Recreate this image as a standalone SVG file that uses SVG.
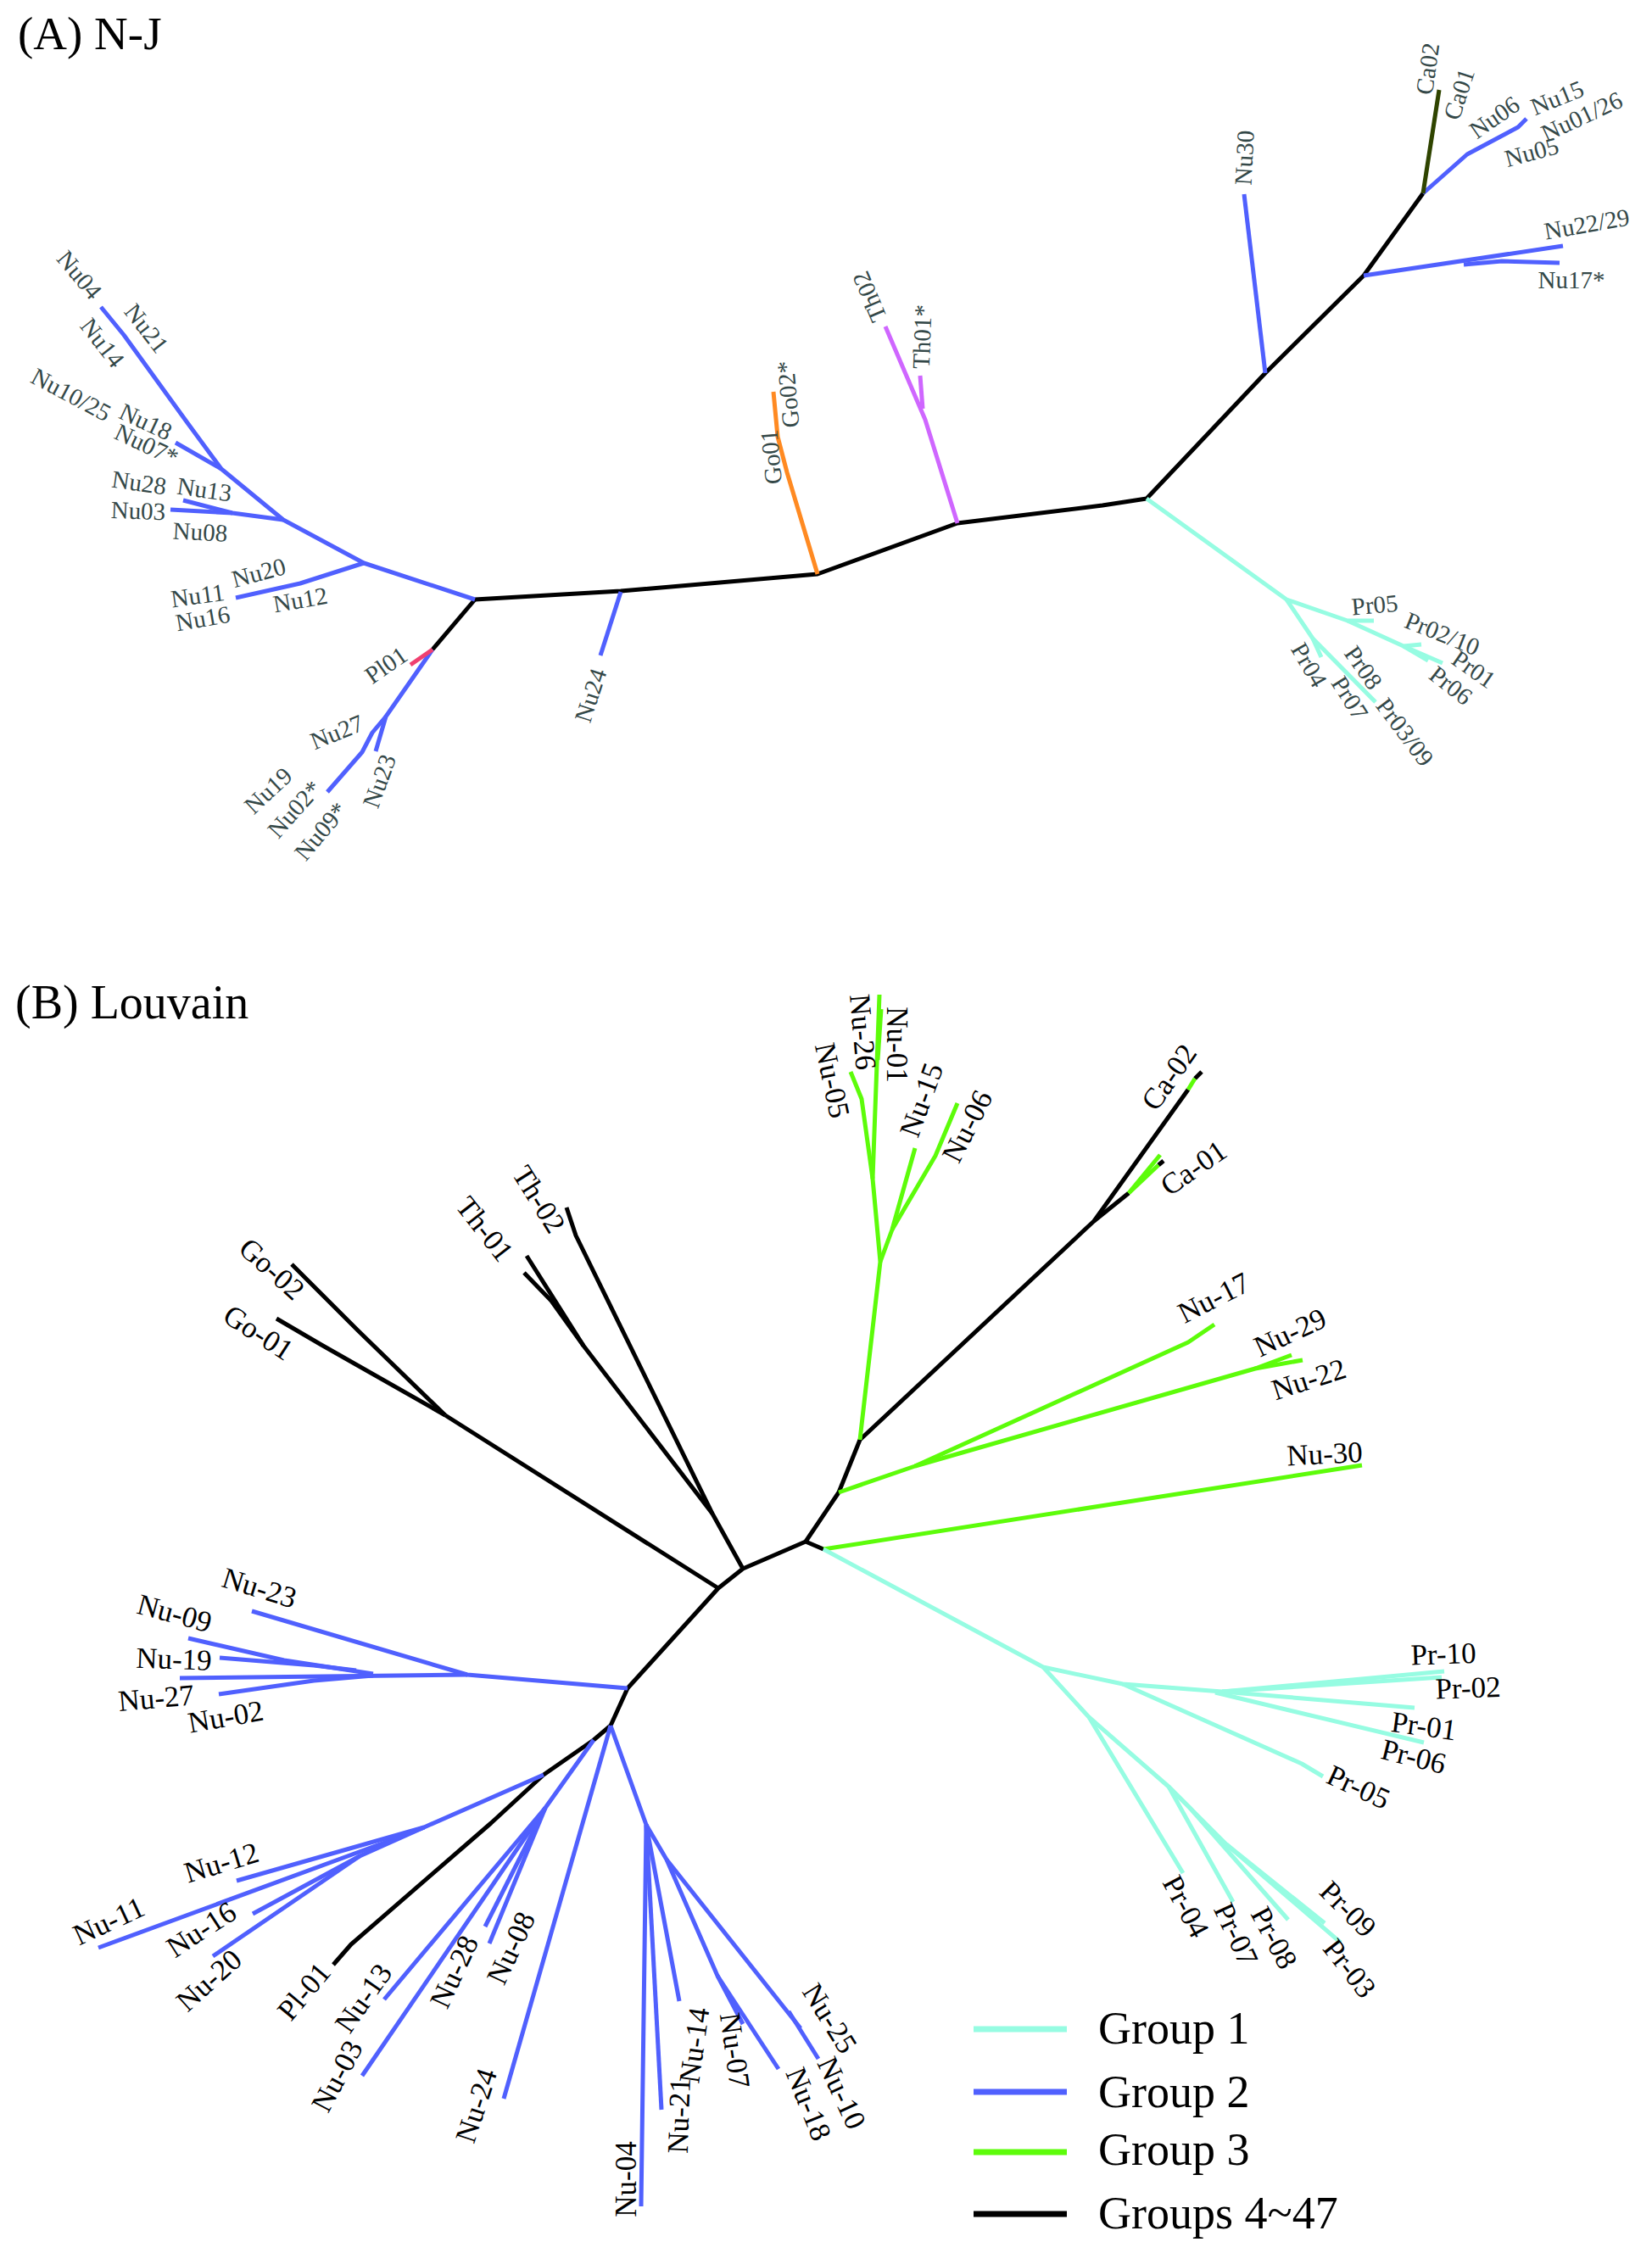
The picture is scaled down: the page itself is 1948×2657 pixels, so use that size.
<svg xmlns="http://www.w3.org/2000/svg" width="1948" height="2657" viewBox="0 0 1948 2657" font-family="'Liberation Serif', 'Times New Roman', serif">
<style>
text{font-family:'Liberation Serif','Times New Roman',serif}
.t{fill:#000;font-family:'Liberation Serif','Times New Roman',serif}
.la{font-size:29px;fill:#344848;text-anchor:middle;font-family:'Liberation Serif','Times New Roman',serif}
.lb{font-size:35px;fill:#000;text-anchor:middle;font-family:'Liberation Serif','Times New Roman',serif}
.lg{font-size:54px;fill:#000;font-family:'Liberation Serif','Times New Roman',serif}
path{fill:none;stroke-width:5;stroke-linejoin:round;stroke-linecap:butt}
.k{stroke:#000}
.b{stroke:#5060FE}
.c{stroke:#96FCE2}
.g{stroke:#5DFC0A}
.o{stroke:#FF8A22}
.v{stroke:#CF66FF}
.p{stroke:#F04070}
.ol{stroke:#2F4400}
.leg{stroke-width:7}
</style>
<rect width="1948" height="2657" fill="#fff"/>
<g id="titles">
<text class="t" x="21" y="58" font-size="55">(A) N-J</text>
<text class="t" x="18" y="1201" font-size="56">(B) Louvain</text>
</g>
<g id="connectors">
<path class="k" d="M560,707 L732,697 L964,677 L1129,617 L1300,596 L1352,588 L1492,440 L1608,325 L1678,228"/>
<path class="k" d="M560,707 L510,766"/>
<path class="b" d="M560,707 L429,664 L334,613 L261,553 L222,500 L146,395 L119,362"/>
<path class="b" d="M261,553 L207,522"/>
<path class="b" d="M334,613 L274,605 L216,590"/>
<path class="b" d="M274,605 L201,601"/>
<path class="b" d="M429,664 L354,688 L278,705"/>
<path class="b" d="M510,766 L455,845 L443,886"/>
<path class="b" d="M455,845 L439,864 L427,887 L386,934"/>
<path class="b" d="M732,698 L708,773"/>
<path class="b" d="M1492,440 L1467,229"/>
<path class="b" d="M1608,325 L1843,290"/>
<path class="b" d="M1726,312 L1771,308 L1839,310"/>
<path class="b" d="M1678,228 L1730,182 L1790,150 L1800,140"/>
<path class="o" d="M964,677 L928,557 L917,515 L912,462"/>
<path class="v" d="M1129,617 L1091,495 L1044,385"/>
<path class="v" d="M1088,482 L1085,443"/>
<path class="p" d="M510,766 L484,784"/>
<path class="ol" d="M1678,228 L1697,106"/>
<path class="c" d="M1352,588 L1517,707 L1589,732 L1620,732"/>
<path class="c" d="M1589,732 L1655,762 L1676,760"/>
<path class="c" d="M1655,762 L1701,782"/>
<path class="c" d="M1655,762 L1684,779"/>
<path class="c" d="M1517,707 L1548,753 L1558,775"/>
<path class="c" d="M1548,753 L1622,828"/>
<path class="k" d="M525,1669 L847,1873"/>
<path class="k" d="M525,1669 L422,1569 L344,1491"/>
<path class="k" d="M525,1669 L379,1586 L326,1555"/>
<path class="k" d="M876,1850 L840,1785 L679,1457 L668,1424"/>
<path class="k" d="M840,1785 L688,1587 L621,1481"/>
<path class="k" d="M688,1587 L650,1534 L618,1501"/>
<path class="k" d="M740,1991 L847,1873 L876,1850 L950,1818 L971,1827"/>
<path class="k" d="M950,1818 L989,1760 L1014,1698 L1290,1440 L1401,1285"/>
<path class="k" d="M1409,1272 L1417,1264"/>
<path class="k" d="M1290,1440 L1331,1407"/>
<path class="k" d="M1366,1374 L1372,1369"/>
<path class="k" d="M740,1991 L720,2035 L700,2052 L641,2093 L579,2150 L414,2293 L393,2317"/>
<path class="g" d="M1401,1285 L1409,1272"/>
<path class="g" d="M1331,1407 L1368,1362"/>
<path class="g" d="M1331,1407 L1366,1374"/>
<path class="b" d="M740,1991 L551,1975 L297,1900"/>
<path class="b" d="M551,1975 L212,1979"/>
<path class="b" d="M440,1974 L335,1958 L222,1932"/>
<path class="b" d="M420,1970 L370,1964 L259,1955"/>
<path class="b" d="M440,1976 L370,1982 L258,1998"/>
<path class="b" d="M641,2093 L500,2155 L279,2218"/>
<path class="b" d="M500,2155 L467,2168 L116,2297"/>
<path class="b" d="M500,2155 L424,2189 L298,2257"/>
<path class="b" d="M424,2189 L251,2307"/>
<path class="b" d="M720,2035 L594,2475"/>
<path class="b" d="M700,2052 L643,2132 L453,2358"/>
<path class="b" d="M643,2132 L427,2448"/>
<path class="b" d="M643,2132 L572,2272"/>
<path class="b" d="M643,2132 L577,2292"/>
<path class="b" d="M720,2035 L762,2152 L756,2602"/>
<path class="b" d="M762,2152 L780,2488"/>
<path class="b" d="M762,2152 L801,2360"/>
<path class="b" d="M762,2152 L786,2193 L846,2330 L876,2387"/>
<path class="b" d="M846,2330 L918,2440"/>
<path class="b" d="M786,2193 L944,2392"/>
<path class="b" d="M930,2372 L965,2428"/>
<path class="g" d="M971,1827 L1606,1728"/>
<path class="g" d="M989,1760 L1079,1729 L1401,1583 L1432,1562"/>
<path class="g" d="M1079,1729 L1480,1614 L1536,1604"/>
<path class="g" d="M1480,1614 L1523,1598"/>
<path class="g" d="M1014,1698 L1038,1488 L1029,1390 L1037,1173"/>
<path class="g" d="M1029,1390 L1016,1296 L1003,1264"/>
<path class="g" d="M1035,1250 L1039,1190"/>
<path class="g" d="M1038,1488 L1052,1450 L1079,1354"/>
<path class="g" d="M1052,1450 L1103,1363 L1129,1301"/>
<path class="c" d="M971,1827 L1230,1966 L1324,1986 L1441,1995 L1703,1971"/>
<path class="c" d="M1441,1995 L1700,1978"/>
<path class="c" d="M1441,1995 L1668,2014"/>
<path class="c" d="M1433,1996 L1679,2055"/>
<path class="c" d="M1324,1986 L1535,2080 L1560,2095"/>
<path class="c" d="M1230,1966 L1284,2025 L1395,2209"/>
<path class="c" d="M1284,2025 L1378,2107 L1454,2243"/>
<path class="c" d="M1378,2107 L1403,2132 L1519,2264"/>
<path class="c" d="M1378,2107 L1446,2175 L1581,2291"/>
<path class="c" d="M1446,2175 L1562,2268"/>
</g>
<g id="labels-A">
<g id="a-Nu04"><text class="la" dy="0.35em" transform="translate(94,324) rotate(50)">Nu04</text></g>
<g id="a-Nu21"><text class="la" dy="0.35em" transform="translate(173,387) rotate(52)">Nu21</text></g>
<g id="a-Nu14"><text class="la" dy="0.35em" transform="translate(121,404) rotate(52)">Nu14</text></g>
<g id="a-Nu10-25"><text class="la" dy="0.35em" transform="translate(84,465) rotate(28)">Nu10/25</text></g>
<g id="a-Nu18"><text class="la" dy="0.35em" transform="translate(172,497) rotate(25)">Nu18</text></g>
<g id="a-Nu07"><text class="la" dy="0.35em" transform="translate(173,524) rotate(25)">Nu07*</text></g>
<g id="a-Nu28"><text class="la" dy="0.35em" transform="translate(164,569) rotate(8)">Nu28</text></g>
<g id="a-Nu13"><text class="la" dy="0.35em" transform="translate(241,577) rotate(8)">Nu13</text></g>
<g id="a-Nu03"><text class="la" dy="0.35em" transform="translate(163,602) rotate(2)">Nu03</text></g>
<g id="a-Nu08"><text class="la" dy="0.35em" transform="translate(236,627) rotate(3)">Nu08</text></g>
<g id="a-Nu20"><text class="la" dy="0.35em" transform="translate(305,675) rotate(-15)">Nu20</text></g>
<g id="a-Nu11"><text class="la" dy="0.35em" transform="translate(233,702) rotate(-8)">Nu11</text></g>
<g id="a-Nu16"><text class="la" dy="0.35em" transform="translate(239,729) rotate(-10)">Nu16</text></g>
<g id="a-Nu12"><text class="la" dy="0.35em" transform="translate(354,707) rotate(-10)">Nu12</text></g>
<g id="a-Pl01"><text class="la" dy="0.35em" transform="translate(455,784) rotate(-35)">Pl01</text></g>
<g id="a-Nu27"><text class="la" dy="0.35em" transform="translate(397,863) rotate(-22)">Nu27</text></g>
<g id="a-Nu19"><text class="la" dy="0.35em" transform="translate(316,932) rotate(-43)">Nu19</text></g>
<g id="a-Nu02"><text class="la" dy="0.35em" transform="translate(347,954) rotate(-48)">Nu02*</text></g>
<g id="a-Nu09"><text class="la" dy="0.35em" transform="translate(378,980) rotate(-50)">Nu09*</text></g>
<g id="a-Nu23"><text class="la" dy="0.35em" transform="translate(447,921) rotate(-70)">Nu23</text></g>
<g id="a-Nu24"><text class="la" dy="0.35em" transform="translate(696,820) rotate(-72)">Nu24</text></g>
<g id="a-Go01"><text class="la" dy="0.35em" transform="translate(909,539) rotate(-95)">Go01</text></g>
<g id="a-Go02"><text class="la" dy="0.35em" transform="translate(929,465) rotate(-95)">Go02*</text></g>
<g id="a-Th02"><text class="la" dy="0.35em" transform="translate(1025,350) rotate(-113)">Th02</text></g>
<g id="a-Th01"><text class="la" dy="0.35em" transform="translate(1087,397) rotate(-88)">Th01*</text></g>
<g id="a-Nu30"><text class="la" dy="0.35em" transform="translate(1467,186) rotate(-87)">Nu30</text></g>
<g id="a-Ca02"><text class="la" dy="0.35em" transform="translate(1683,81) rotate(-82)">Ca02</text></g>
<g id="a-Ca01"><text class="la" dy="0.35em" transform="translate(1720,111) rotate(-72)">Ca01</text></g>
<g id="a-Nu06"><text class="la" dy="0.35em" transform="translate(1762,138) rotate(-35)">Nu06</text></g>
<g id="a-Nu15"><text class="la" dy="0.35em" transform="translate(1836,115) rotate(-22)">Nu15</text></g>
<g id="a-Nu01-26"><text class="la" dy="0.35em" transform="translate(1865,137) rotate(-25)">Nu01/26</text></g>
<g id="a-Nu05"><text class="la" dy="0.35em" transform="translate(1806,179) rotate(-15)">Nu05</text></g>
<g id="a-Nu22-29"><text class="la" dy="0.35em" transform="translate(1871,264) rotate(-10)">Nu22/29</text></g>
<g id="a-Nu17"><text class="la" dy="0.35em" transform="translate(1853,330)">Nu17*</text></g>
<g id="a-Pr05"><text class="la" dy="0.35em" transform="translate(1621,713) rotate(-5)">Pr05</text></g>
<g id="a-Pr02-10"><text class="la" dy="0.35em" transform="translate(1701,747) rotate(22)">Pr02/10</text></g>
<g id="a-Pr01"><text class="la" dy="0.35em" transform="translate(1738,789) rotate(35)">Pr01</text></g>
<g id="a-Pr06"><text class="la" dy="0.35em" transform="translate(1711,808) rotate(38)">Pr06</text></g>
<g id="a-Pr08"><text class="la" dy="0.35em" transform="translate(1608,787) rotate(55)">Pr08</text></g>
<g id="a-Pr04"><text class="la" dy="0.35em" transform="translate(1544,784) rotate(60)">Pr04</text></g>
<g id="a-Pr07"><text class="la" dy="0.35em" transform="translate(1592,823) rotate(58)">Pr07</text></g>
<g id="a-Pr03-09"><text class="la" dy="0.35em" transform="translate(1657,863) rotate(53)">Pr03/09</text></g>
</g>
<g id="labels-B">
<g id="b-Go02"><text class="lb" dy="0.35em" transform="translate(321,1496) rotate(42)">Go-02</text></g>
<g id="b-Go01"><text class="lb" dy="0.35em" transform="translate(305,1571) rotate(33)">Go-01</text></g>
<g id="b-Th01"><text class="lb" dy="0.35em" transform="translate(572,1449) rotate(52)">Th-01</text></g>
<g id="b-Th02"><text class="lb" dy="0.35em" transform="translate(636,1414) rotate(58)">Th-02</text></g>
<g id="b-Nu05"><text class="lb" dy="0.35em" transform="translate(982,1274) rotate(78)">Nu-05</text></g>
<g id="b-Nu26"><text class="lb" dy="0.35em" transform="translate(1018,1217) rotate(85)">Nu-26</text></g>
<g id="b-Nu01"><text class="lb" dy="0.35em" transform="translate(1058,1232) rotate(90)">Nu-01</text></g>
<g id="b-Nu15"><text class="lb" dy="0.35em" transform="translate(1086,1297) rotate(-70)">Nu-15</text></g>
<g id="b-Nu06"><text class="lb" dy="0.35em" transform="translate(1140,1328) rotate(-63)">Nu-06</text></g>
<g id="b-Ca02"><text class="lb" dy="0.35em" transform="translate(1378,1270) rotate(-55)">Ca-02</text></g>
<g id="b-Ca01"><text class="lb" dy="0.35em" transform="translate(1407,1377) rotate(-35)">Ca-01</text></g>
<g id="b-Nu17"><text class="lb" dy="0.35em" transform="translate(1431,1530) rotate(-27)">Nu-17</text></g>
<g id="b-Nu29"><text class="lb" dy="0.35em" transform="translate(1521,1571) rotate(-25)">Nu-29</text></g>
<g id="b-Nu22"><text class="lb" dy="0.35em" transform="translate(1543,1626) rotate(-18)">Nu-22</text></g>
<g id="b-Nu30"><text class="lb" dy="0.35em" transform="translate(1562,1714) rotate(-3)">Nu-30</text></g>
<g id="b-Pr10"><text class="lb" dy="0.35em" transform="translate(1702,1950) rotate(-2)">Pr-10</text></g>
<g id="b-Pr02"><text class="lb" dy="0.35em" transform="translate(1731,1990) rotate(-2)">Pr-02</text></g>
<g id="b-Pr01"><text class="lb" dy="0.35em" transform="translate(1679,2035) rotate(8)">Pr-01</text></g>
<g id="b-Pr06"><text class="lb" dy="0.35em" transform="translate(1667,2071) rotate(14)">Pr-06</text></g>
<g id="b-Pr05"><text class="lb" dy="0.35em" transform="translate(1602,2107) rotate(25)">Pr-05</text></g>
<g id="b-Pr09"><text class="lb" dy="0.35em" transform="translate(1590,2251) rotate(45)">Pr-09</text></g>
<g id="b-Pr03"><text class="lb" dy="0.35em" transform="translate(1592,2321) rotate(52)">Pr-03</text></g>
<g id="b-Pr08"><text class="lb" dy="0.35em" transform="translate(1503,2285) rotate(62)">Pr-08</text></g>
<g id="b-Pr07"><text class="lb" dy="0.35em" transform="translate(1458,2281) rotate(65)">Pr-07</text></g>
<g id="b-Pr04"><text class="lb" dy="0.35em" transform="translate(1399,2248) rotate(62)">Pr-04</text></g>
<g id="b-Nu23"><text class="lb" dy="0.35em" transform="translate(306,1872) rotate(17)">Nu-23</text></g>
<g id="b-Nu09"><text class="lb" dy="0.35em" transform="translate(206,1902) rotate(15)">Nu-09</text></g>
<g id="b-Nu19"><text class="lb" dy="0.35em" transform="translate(205,1956) rotate(2)">Nu-19</text></g>
<g id="b-Nu27"><text class="lb" dy="0.35em" transform="translate(184,2002) rotate(-5)">Nu-27</text></g>
<g id="b-Nu02"><text class="lb" dy="0.35em" transform="translate(266,2024) rotate(-10)">Nu-02</text></g>
<g id="b-Nu12"><text class="lb" dy="0.35em" transform="translate(261,2196) rotate(-17)">Nu-12</text></g>
<g id="b-Nu11"><text class="lb" dy="0.35em" transform="translate(128,2265) rotate(-25)">Nu-11</text></g>
<g id="b-Nu16"><text class="lb" dy="0.35em" transform="translate(237,2275) rotate(-33)">Nu-16</text></g>
<g id="b-Nu20"><text class="lb" dy="0.35em" transform="translate(246,2335) rotate(-42)">Nu-20</text></g>
<g id="b-Pl01"><text class="lb" dy="0.35em" transform="translate(358,2348) rotate(-50)">Pl-01</text></g>
<g id="b-Nu13"><text class="lb" dy="0.35em" transform="translate(428,2356) rotate(-55)">Nu-13</text></g>
<g id="b-Nu28"><text class="lb" dy="0.35em" transform="translate(535,2325) rotate(-65)">Nu-28</text></g>
<g id="b-Nu08"><text class="lb" dy="0.35em" transform="translate(602,2297) rotate(-65)">Nu-08</text></g>
<g id="b-Nu03"><text class="lb" dy="0.35em" transform="translate(397,2448) rotate(-62)">Nu-03</text></g>
<g id="b-Nu24"><text class="lb" dy="0.35em" transform="translate(561,2483) rotate(-72)">Nu-24</text></g>
<g id="b-Nu04"><text class="lb" dy="0.35em" transform="translate(738,2570) rotate(-90)">Nu-04</text></g>
<g id="b-Nu21"><text class="lb" dy="0.35em" transform="translate(800,2495) rotate(-88)">Nu-21</text></g>
<g id="b-Nu14"><text class="lb" dy="0.35em" transform="translate(818,2412) rotate(-82)">Nu-14</text></g>
<g id="b-Nu07"><text class="lb" dy="0.35em" transform="translate(867,2418) rotate(82)">Nu-07</text></g>
<g id="b-Nu18"><text class="lb" dy="0.35em" transform="translate(954,2481) rotate(68)">Nu-18</text></g>
<g id="b-Nu10"><text class="lb" dy="0.35em" transform="translate(993,2468) rotate(65)">Nu-10</text></g>
<g id="b-Nu25"><text class="lb" dy="0.35em" transform="translate(979,2380) rotate(58)">Nu-25</text></g>
</g>
<g id="legend">
<path class="c leg" d="M1148,2393 L1258,2393"/>
<path class="b leg" d="M1148,2467 L1258,2467"/>
<path class="g leg" d="M1148,2538 L1258,2538"/>
<path class="k leg" d="M1148,2611 L1258,2611"/>
<text class="lg" x="1295" y="2410">Group 1</text>
<text class="lg" x="1295" y="2485">Group 2</text>
<text class="lg" x="1295" y="2553">Group 3</text>
<text class="lg" x="1295" y="2628">Groups 4~47</text>
</g>
</svg>
